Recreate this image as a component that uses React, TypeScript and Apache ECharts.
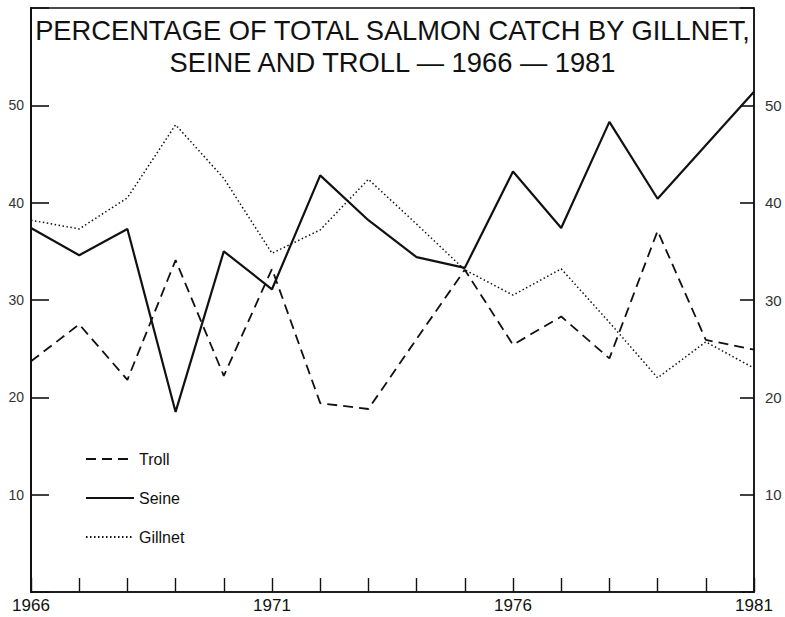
import React, { useEffect, useRef } from "react";
import * as echarts from "echarts";

const years = [1966, 1967, 1968, 1969, 1970, 1971, 1972, 1973, 1974, 1975, 1976, 1977, 1978, 1979, 1980, 1981];
const troll = [23.7, 27.5, 21.8, 34.1, 22.2, 33.2, 19.4, 18.8, 26.0, 33.1, 25.4, 28.3, 24.0, 37.1, 25.9, 24.9];
const seine = [37.4, 34.6, 37.3, 18.5, 35.0, 31.1, 42.8, 38.2, 34.4, 33.3, 43.2, 37.4, 48.3, 40.4, 45.9, 51.4];
const gillnet = [38.2, 37.3, 40.5, 48.0, 42.5, 34.8, 37.2, 42.4, 37.8, 33.1, 30.5, 33.2, 27.7, 22.0, 25.7, 23.0];
const yearLabels = [1966, 1971, 1976, 1981];
const yLabels = [10, 20, 30, 40, 50];
const titleLines = ["PERCENTAGE OF TOTAL SALMON CATCH BY GILLNET,", "SEINE AND TROLL \u2014 1966 \u2014 1981"];

const pairs = (vals: number[]) => years.map((y, i) => [y, vals[i]]);
const FONT = "Liberation Sans, Arial, Helvetica, sans-serif";
const INK = "#111";

export default function App() {
  const ref = useRef<HTMLDivElement>(null);
  useEffect(() => {
    if (!ref.current) return;
    const chart = echarts.init(ref.current, undefined, { renderer: "svg" });
    const yAxisBase = (pos: "left" | "right", tickLen: number, margin: number, lw: number, fs: number) => ({
      type: "value",
      position: pos,
      min: 0,
      max: 60,
      interval: 10,
      axisLine: { show: true, lineStyle: { color: INK, width: lw } },
      axisTick: { show: true, inside: true, length: tickLen, lineStyle: { color: INK, width: 1.6 } },
      axisLabel: {
        margin,
        color: "#333",
        fontFamily: FONT,
        fontSize: fs,
        formatter: (v: number) => (yLabels.includes(v) ? String(v) : ""),
      },
      splitLine: { show: false },
    });
    chart.setOption({
      animation: false,
      backgroundColor: "#fff",
      graphic: titleLines.map((t, i) => ({
        type: "text",
        x: 392.5,
        y: 30 + i * 32,
        scaleX: 0.975,
        originX: 0,
        style: {
          text: t,
          font: `28px ${FONT}`,
          fill: INK,
          align: "center",
          verticalAlign: "middle",
        },
        z: 10,
      })),
      legend: {
        orient: "vertical",
        left: 80,
        top: 446,
        itemWidth: 48,
        itemHeight: 14,
        itemGap: 23,
        itemStyle: { opacity: 0 },
        textStyle: { fontFamily: FONT, fontSize: 16, color: INK },
        data: ["Troll", "Seine", "Gillnet"],
      },
      grid: {
        left: 31,
        right: 31,
        top: 8,
        bottom: 25,
        show: true,
        borderColor: INK,
        borderWidth: 1.4,
        backgroundColor: "transparent",
      },
      xAxis: {
        type: "value",
        min: 1966,
        max: 1981,
        interval: 1,
        axisLine: { show: true, lineStyle: { color: INK, width: 1.6 } },
        axisTick: { show: true, inside: true, length: 14, lineStyle: { color: INK, width: 1.4 } },
        axisLabel: {
          margin: 5,
          color: INK,
          fontFamily: FONT,
          fontSize: 17,
          showMinLabel: true,
          showMaxLabel: true,
          formatter: (v: number) => (yearLabels.includes(v) ? String(v) : ""),
        },
        splitLine: { show: false },
      },
      yAxis: [yAxisBase("left", 18, 7, 2, 14), yAxisBase("right", 14, 11, 1.6, 15)],
      series: [
        {
          name: "Troll",
          type: "line",
          data: pairs(troll),
          symbol: "none",
          lineStyle: { color: INK, width: 1.8, type: [10, 6] },
          itemStyle: { color: INK },
        },
        {
          name: "Seine",
          type: "line",
          data: pairs(seine),
          symbol: "none",
          lineStyle: { color: INK, width: 2.2, type: "solid" },
          itemStyle: { color: INK },
        },
        {
          name: "Gillnet",
          type: "line",
          data: pairs(gillnet),
          symbol: "none",
          lineStyle: { color: INK, width: 1.5, type: [1.5, 2.5] },
          itemStyle: { color: INK },
        },
      ],
    });
    return () => chart.dispose();
  }, []);
  return <div ref={ref} style={{ width: 785, height: 617, position: "absolute", left: 0, top: 0 }} />;
}
